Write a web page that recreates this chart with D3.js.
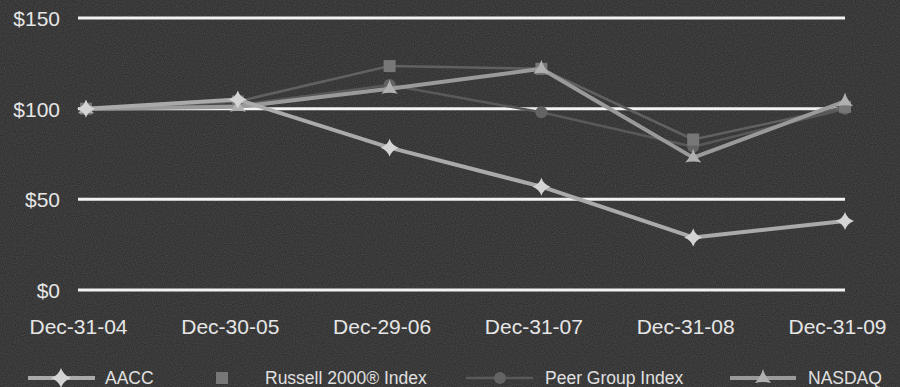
<!DOCTYPE html>
<html><head><meta charset="utf-8">
<script src="https://cdn.jsdelivr.net/npm/d3@7"></script>
<style>html,body{margin:0;padding:0;background:#3a3a3a;}svg{display:block;}</style>
</head><body>
<svg id="c" width="900" height="387"></svg>
<script>
const categories = ["Dec-31-04","Dec-30-05","Dec-29-06","Dec-31-07","Dec-31-08","Dec-31-09"];
const aacc = [100, 105, 78.5, 57, 29, 38];
const russell = [100, 104, 123.5, 122, 83, 101];
const peer = [100, 102, 113, 98, 79, 100];
const nasdaq = [100, 101, 111, 122, 73, 104];
const yTicks = [0, 50, 100, 150];
const seriesNames = ["AACC", "Russell 2000\u00AE Index", "Peer Group Index", "NASDAQ"];

const svg = d3.select("#c");
const W = 900, H = 387;
const font = "Liberation Sans, Arial, sans-serif";

// textured background
const defs = svg.append("defs");
const f = defs.append("filter").attr("id","noise").attr("x",0).attr("y",0).attr("width","100%").attr("height","100%");
f.append("feTurbulence").attr("type","fractalNoise").attr("baseFrequency",0.9).attr("numOctaves",1).attr("seed",3).attr("result","t");
f.append("feColorMatrix").attr("type","matrix")
 .attr("values","0 0 0 0 1  0 0 0 0 1  0 0 0 0 1  0 0 0 0.35 -0.1");
svg.append("rect").attr("width",W).attr("height",H).attr("fill","#323232");
svg.append("rect").attr("width",W).attr("height",H).attr("filter","url(#noise)").attr("opacity",0.55);

const x = d3.scalePoint().domain(categories).range([86, 845]);
const y = d3.scaleLinear().domain([0,150]).range([290, 18]);

// gridlines
svg.append("g").selectAll("line").data(yTicks).join("line")
  .attr("x1",78).attr("x2",845)
  .attr("y1",d=>y(d)).attr("y2",d=>y(d))
  .attr("stroke","#f2f2f2").attr("stroke-width",3);

// y axis labels
const yAxis = d3.axisLeft(y).tickValues(yTicks).tickSize(0).tickPadding(0).tickFormat(d=>"$"+d);
const gy = svg.append("g").attr("transform","translate(60,0)").call(yAxis);
gy.select(".domain").remove();
gy.selectAll("text").attr("fill","#e6e6e6").style("font-family",font).style("font-size","21px").attr("dy","0.35em");

// x axis labels
const xAxis = d3.axisBottom(x).tickSize(0).tickPadding(0);
const gx = svg.append("g").attr("transform","translate(-8,327)").call(xAxis);
gx.select(".domain").remove();
gx.selectAll("text").attr("fill","#e6e6e6").style("font-family",font).style("font-size","21px").attr("dy","0.35em");

const line = d3.line().x((d,i)=>x(categories[i])).y(d=>y(d));

const star4 = (s)=>{
  const r = s, q = s*0.25;
  return `M0,${-r} Q${q},${-q} ${r},0 Q${q},${q} 0,${r} Q${-q},${q} ${-r},0 Q${-q},${-q} 0,${-r}Z`;
};
const triStar = (s)=>{
  const r = s, q = s*0.22;
  return `M0,${-r} Q${q},${-q} ${r*0.9},${r*0.55} Q0,${q*1.5} ${-r*0.9},${r*0.55} Q${-q},${-q} 0,${-r}Z`;
};

function drawSeries(vals, opt){
  const g = svg.append("g");
  g.append("path").datum(vals).attr("d",line).attr("fill","none")
    .attr("stroke",opt.stroke).attr("stroke-width",opt.width).attr("stroke-linejoin","round");
  const pts = g.selectAll("g.m").data(vals).join("g")
    .attr("transform",(d,i)=>`translate(${x(categories[i])},${y(d)})`);
  opt.marker(pts);
}

drawSeries(peer, {stroke:"#595959", width:2.5, marker: s=>s.append("circle").attr("r",6).attr("fill","#636363")});
drawSeries(russell, {stroke:"#606060", width:2.5, marker: s=>s.append("rect").attr("x",-6).attr("y",-6).attr("width",12).attr("height",12).attr("fill","#777777")});
drawSeries(nasdaq, {stroke:"#9a9a9a", width:4, marker: s=>s.append("path").attr("d",triStar(9)).attr("fill","#b0b0b0")});
drawSeries(aacc, {stroke:"#aaaaaa", width:4, marker: s=>s.append("path").attr("d",star4(9)).attr("fill","#d4d4d4")});

// legend
const lg = svg.append("g").attr("transform","translate(0,378)");
lg.append("line").attr("x1",28).attr("x2",95).attr("stroke","#aaaaaa").attr("stroke-width",4);
lg.append("path").attr("transform","translate(61,0)").attr("d",star4(10)).attr("fill","#d4d4d4");
lg.append("text").attr("x",105).attr("dy","0.35em").text(seriesNames[0]);
lg.append("rect").attr("x",216).attr("y",-6).attr("width",12).attr("height",12).attr("fill","#777777");
lg.append("text").attr("x",265).attr("dy","0.35em").text(seriesNames[1]);
lg.append("line").attr("x1",466).attr("x2",533).attr("stroke","#595959").attr("stroke-width",2.5);
lg.append("circle").attr("cx",500).attr("r",6).attr("fill","#636363");
lg.append("text").attr("x",545).attr("dy","0.35em").text(seriesNames[2]);
lg.append("line").attr("x1",730).attr("x2",796).attr("stroke","#9a9a9a").attr("stroke-width",4);
lg.append("path").attr("transform","translate(763,0)").attr("d",triStar(9)).attr("fill","#b0b0b0");
lg.append("text").attr("x",808).attr("dy","0.35em").text(seriesNames[3]);
lg.selectAll("text").attr("fill","#e0e0e0").style("font-family",font).style("font-size","17.5px");
</script>
</body></html>
